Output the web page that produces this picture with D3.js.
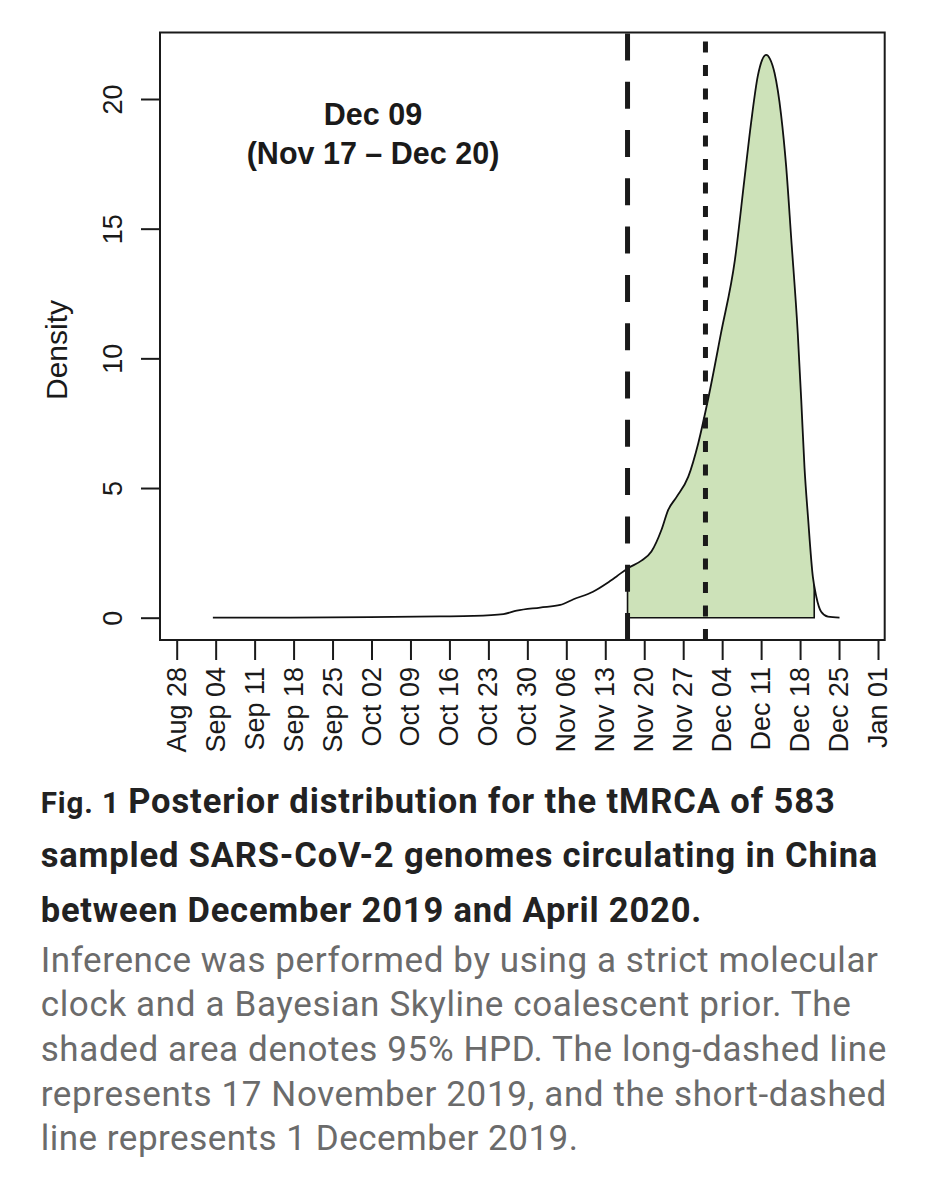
<!DOCTYPE html>
<html>
<head>
<meta charset="UTF-8">
<title>tMRCA posterior</title>
<script src="https://d3js.org/d3.v7.min.js"></script>
<style>
	body { margin: 0; background: #fff; }
	svg { display: block; }
</style>
</head>
<body>
<svg id="chart" width="936" height="1200"></svg>
<script type="text/javascript">
	// posterior density of tMRCA
	var curveDates = [
		"2019-09-03T12:00", "2019-09-17T10:00", "2019-10-01T17:00", "2019-10-14T07:00",
		"2019-10-20T07:00", "2019-10-25T17:00", "2019-10-28T02:00", "2019-11-01T07:00",
		"2019-11-04T22:00", "2019-11-07T07:00", "2019-11-10T19:00", "2019-11-13T07:00",
		"2019-11-15T02:00", "2019-11-17T00:00", "2019-11-19T12:00", "2019-11-21T07:00",
		"2019-11-23T02:00", "2019-11-24T07:00", "2019-11-25T19:00", "2019-11-27T22:00",
		"2019-11-29T17:00", "2019-12-01T12:00", "2019-12-03T19:00", "2019-12-06T07:00",
		"2019-12-08T00:00", "2019-12-09T05:00", "2019-12-10T10:00", "2019-12-11T04:00",
		"2019-12-11T22:00", "2019-12-12T14:00", "2019-12-13T10:00", "2019-12-14T14:00",
		"2019-12-15T12:00", "2019-12-16T10:00", "2019-12-17T14:00", "2019-12-18T05:00",
		"2019-12-18T19:00", "2019-12-19T10:00", "2019-12-20T07:00", "2019-12-20T22:00",
		"2019-12-21T19:00", "2019-12-23T00:00", "2019-12-25T02:00"
	];
	var curveDensity = [
		0.00, 0.005, 0.02, 0.05,
		0.07, 0.14, 0.27, 0.39,
		0.49, 0.71, 1.00, 1.33,
		1.60, 1.90, 2.20, 2.55,
		3.38, 4.15, 4.65, 5.44,
		6.73, 8.45, 10.97, 13.80,
		16.90, 19.10, 20.90, 21.50,
		21.70, 21.55, 21.00, 19.40,
		17.40, 14.60, 10.97, 8.40,
		5.80, 3.90, 1.58, 0.81,
		0.23, 0.04, 0.00
	];

	// 95% HPD bounds and reference lines
	var hpdLower = "2019-11-17T00:00";
	var hpdUpper = "2019-12-20T13:00";
	var longDashDate = "2019-11-17T00:00";
	var shortDashDate = "2019-12-01T00:00";

	var tickDates = [
		"2019-08-28", "2019-09-04", "2019-09-11", "2019-09-18", "2019-09-25",
		"2019-10-02", "2019-10-09", "2019-10-16", "2019-10-23", "2019-10-30",
		"2019-11-06", "2019-11-13", "2019-11-20", "2019-11-27", "2019-12-04",
		"2019-12-11", "2019-12-18", "2019-12-25", "2020-01-01"
	];
	var yTicks = [0, 5, 10, 15, 20];

	var annotation = ["Dec 09", "(Nov 17 \u2013 Dec 20)"];

	var captionLabel = "Fig. 1 ";
	var captionTitle = [
		"Posterior distribution for the tMRCA of 583",
		"sampled SARS-CoV-2 genomes circulating in China",
		"between December 2019 and April 2020."
	];
	var captionBody = [
		"Inference was performed by using a strict molecular",
		"clock and a Bayesian Skyline coalescent prior. The",
		"shaded area denotes 95% HPD. The long-dashed line",
		"represents 17 November 2019, and the short-dashed",
		"line represents 1 December 2019."
	];
	// right edge of each caption line in the figure
	var titleEnds = [834.7, 877.3, 701.3];
	var bodyEnds = [878, 850.7, 886.3, 886.3, 578];

	var parse = d3.isoParse;
	var points = curveDates.map(function(d, i)
	{
		return { date: parse(d), value: curveDensity[i] };
	});

	var box = { left: 160, right: 884.7, top: 32.5, bottom: 640 };

	var x = d3.scaleTime()
		.domain([parse("2019-08-28"), parse("2020-01-01")])
		.range([176.7, 878]);
	var y = d3.scaleLinear().domain([0, 20]).range([617.7, 99]);

	var svg = d3.select("#chart");
	var plotFont = "'Liberation Sans', Arial, Helvetica, sans-serif";

	var curve = d3.curveMonotoneX;
	var line = d3.line()
		.x(function(d) { return x(d.date); })
		.y(function(d) { return y(d.value); })
		.curve(curve);
	var area = d3.area()
		.x(function(d) { return x(d.date); })
		.y0(y(0))
		.y1(function(d) { return y(d.value); })
		.curve(curve);

	// value on the curve at a date (linear between read points)
	function valueAt(date)
	{
		var t = date.getTime();
		for (var i = 1; i < points.length; i++)
		{
			var a = points[i - 1], b = points[i];
			if (t <= b.date.getTime())
			{
				var f = (t - a.date.getTime()) / (b.date.getTime() - a.date.getTime());
				return a.value + f * (b.value - a.value);
			}
		}
		return 0;
	}

	var lo = parse(hpdLower), hi = parse(hpdUpper);

	// shaded HPD region, clipped from the area under the curve
	svg.append("clipPath").attr("id", "hpdClip")
		.append("rect")
		.attr("x", x(lo))
		.attr("y", box.top)
		.attr("width", x(hi) - x(lo))
		.attr("height", y(0) - box.top);

	svg.append("path")
		.datum(points)
		.attr("d", area)
		.attr("clip-path", "url(#hpdClip)")
		.attr("fill", "#cde2b9");

	// polygon outline: base and the two side edges
	var edge = d3.path();
	edge.moveTo(x(lo), y(valueAt(lo)));
	edge.lineTo(x(lo), y(0));
	edge.lineTo(x(hi), y(0));
	edge.lineTo(x(hi), y(valueAt(hi)));
	svg.append("path")
		.attr("d", edge.toString())
		.attr("fill", "none")
		.attr("stroke", "#111")
		.attr("stroke-width", 1.6);

	// density line
	svg.append("path")
		.datum(points)
		.attr("d", line)
		.attr("fill", "none")
		.attr("stroke", "#111")
		.attr("stroke-width", 1.8);

	// reference lines, drawn from the bottom up like R's abline
	svg.append("line")
		.attr("x1", x(parse(longDashDate))).attr("x2", x(parse(longDashDate)))
		.attr("y1", box.bottom).attr("y2", box.top)
		.attr("stroke", "#1a1a1a")
		.attr("stroke-width", 5)
		.attr("stroke-dasharray", "27,21.3");

	svg.append("line")
		.attr("x1", x(parse(shortDashDate))).attr("x2", x(parse(shortDashDate)))
		.attr("y1", box.bottom).attr("y2", box.top)
		.attr("stroke", "#1a1a1a")
		.attr("stroke-width", 5)
		.attr("stroke-dasharray", "11,12.5");

	// frame
	svg.append("rect")
		.attr("x", box.left).attr("y", box.top)
		.attr("width", box.right - box.left)
		.attr("height", box.bottom - box.top)
		.attr("fill", "none")
		.attr("stroke", "#1a1a1a")
		.attr("stroke-width", 2);

	// x axis
	var fmt = d3.timeFormat("%b %d");
	var xAxis = svg.append("g")
		.attr("transform", "translate(0," + box.bottom + ")")
		.call(d3.axisBottom(x)
			.tickValues(tickDates.map(parse))
			.tickFormat(fmt)
			.tickSize(20)
			.tickPadding(0));
	xAxis.select(".domain").remove();
	xAxis.selectAll(".tick line").attr("stroke", "#1a1a1a").attr("stroke-width", 2);
	xAxis.selectAll(".tick text")
		.attr("font-family", plotFont)
		.attr("font-size", 27)
		.attr("fill", "#1a1a1a")
		.attr("text-anchor", "end")
		.attr("x", 0)
		.attr("y", 0)
		.attr("dy", 0)
		.attr("transform", "translate(8.5,27) rotate(-90)");

	// y axis
	var yAxis = svg.append("g")
		.attr("transform", "translate(" + box.left + ",0)")
		.call(d3.axisLeft(y)
			.tickValues(yTicks)
			.tickSize(19)
			.tickPadding(0));
	yAxis.select(".domain").remove();
	yAxis.selectAll(".tick line").attr("stroke", "#1a1a1a").attr("stroke-width", 2);
	yAxis.selectAll(".tick text")
		.attr("font-family", plotFont)
		.attr("font-size", 27)
		.attr("fill", "#1a1a1a")
		.attr("text-anchor", "middle")
		.attr("x", 0)
		.attr("y", 0)
		.attr("dy", 0)
		.attr("transform", "translate(-38.5,0) rotate(-90)");

	svg.append("text")
		.attr("transform", "translate(66.5,350) rotate(-90)")
		.attr("text-anchor", "middle")
		.attr("font-family", plotFont)
		.attr("font-size", 30)
		.attr("fill", "#1a1a1a")
		.text("Density");

	// annotation
	svg.selectAll("text.annot")
		.data(annotation)
		.enter()
		.append("text")
		.classed("annot", true)
		.attr("x", 373)
		.attr("y", function(d, i) { return 125 + i * 38.5; })
		.attr("text-anchor", "middle")
		.attr("font-family", plotFont)
		.attr("font-weight", "bold")
		.attr("font-size", 30.5)
		.attr("fill", "#1a1a1a")
		.text(function(d) { return d; });

	// caption
	var capFont = "Roboto, 'Noto Sans', sans-serif";
	var capLeft = 40.7;

	// fit each line to the width it has in the figure with a small tracking tweak
	function track(sel, ends)
	{
		sel.each(function(d, i)
		{
			var node = this;
			var chars = node.textContent.length;
			var w = node.getComputedTextLength();
			var ls = (ends[i] - capLeft - w) / Math.max(1, chars - 1);
			d3.select(node).attr("letter-spacing", ls.toFixed(3));
		});
	}

	var title = svg.selectAll("text.title")
		.data(captionTitle)
		.enter()
		.append("text")
		.classed("title", true)
		.attr("x", capLeft)
		.attr("y", function(d, i) { return 812.7 + i * 54.5; })
		.attr("font-family", capFont)
		.attr("font-weight", "bold")
		.attr("font-size", 34.5)
		.attr("fill", "#222");

	title.filter(function(d, i) { return i === 0; })
		.append("tspan")
		.attr("font-size", 29.5)
		.text(captionLabel);
	title.append("tspan")
		.text(function(d) { return d; });
	track(title, titleEnds);

	var body = svg.selectAll("text.body")
		.data(captionBody)
		.enter()
		.append("text")
		.classed("body", true)
		.attr("x", capLeft)
		.attr("y", function(d, i) { return 971.7 + i * 44.6; })
		.attr("font-family", capFont)
		.attr("font-size", 35)
		.attr("fill", "#6b6b6b")
		.text(function(d) { return d; });
	track(body, bodyEnds);
</script>
</body>
</html>
